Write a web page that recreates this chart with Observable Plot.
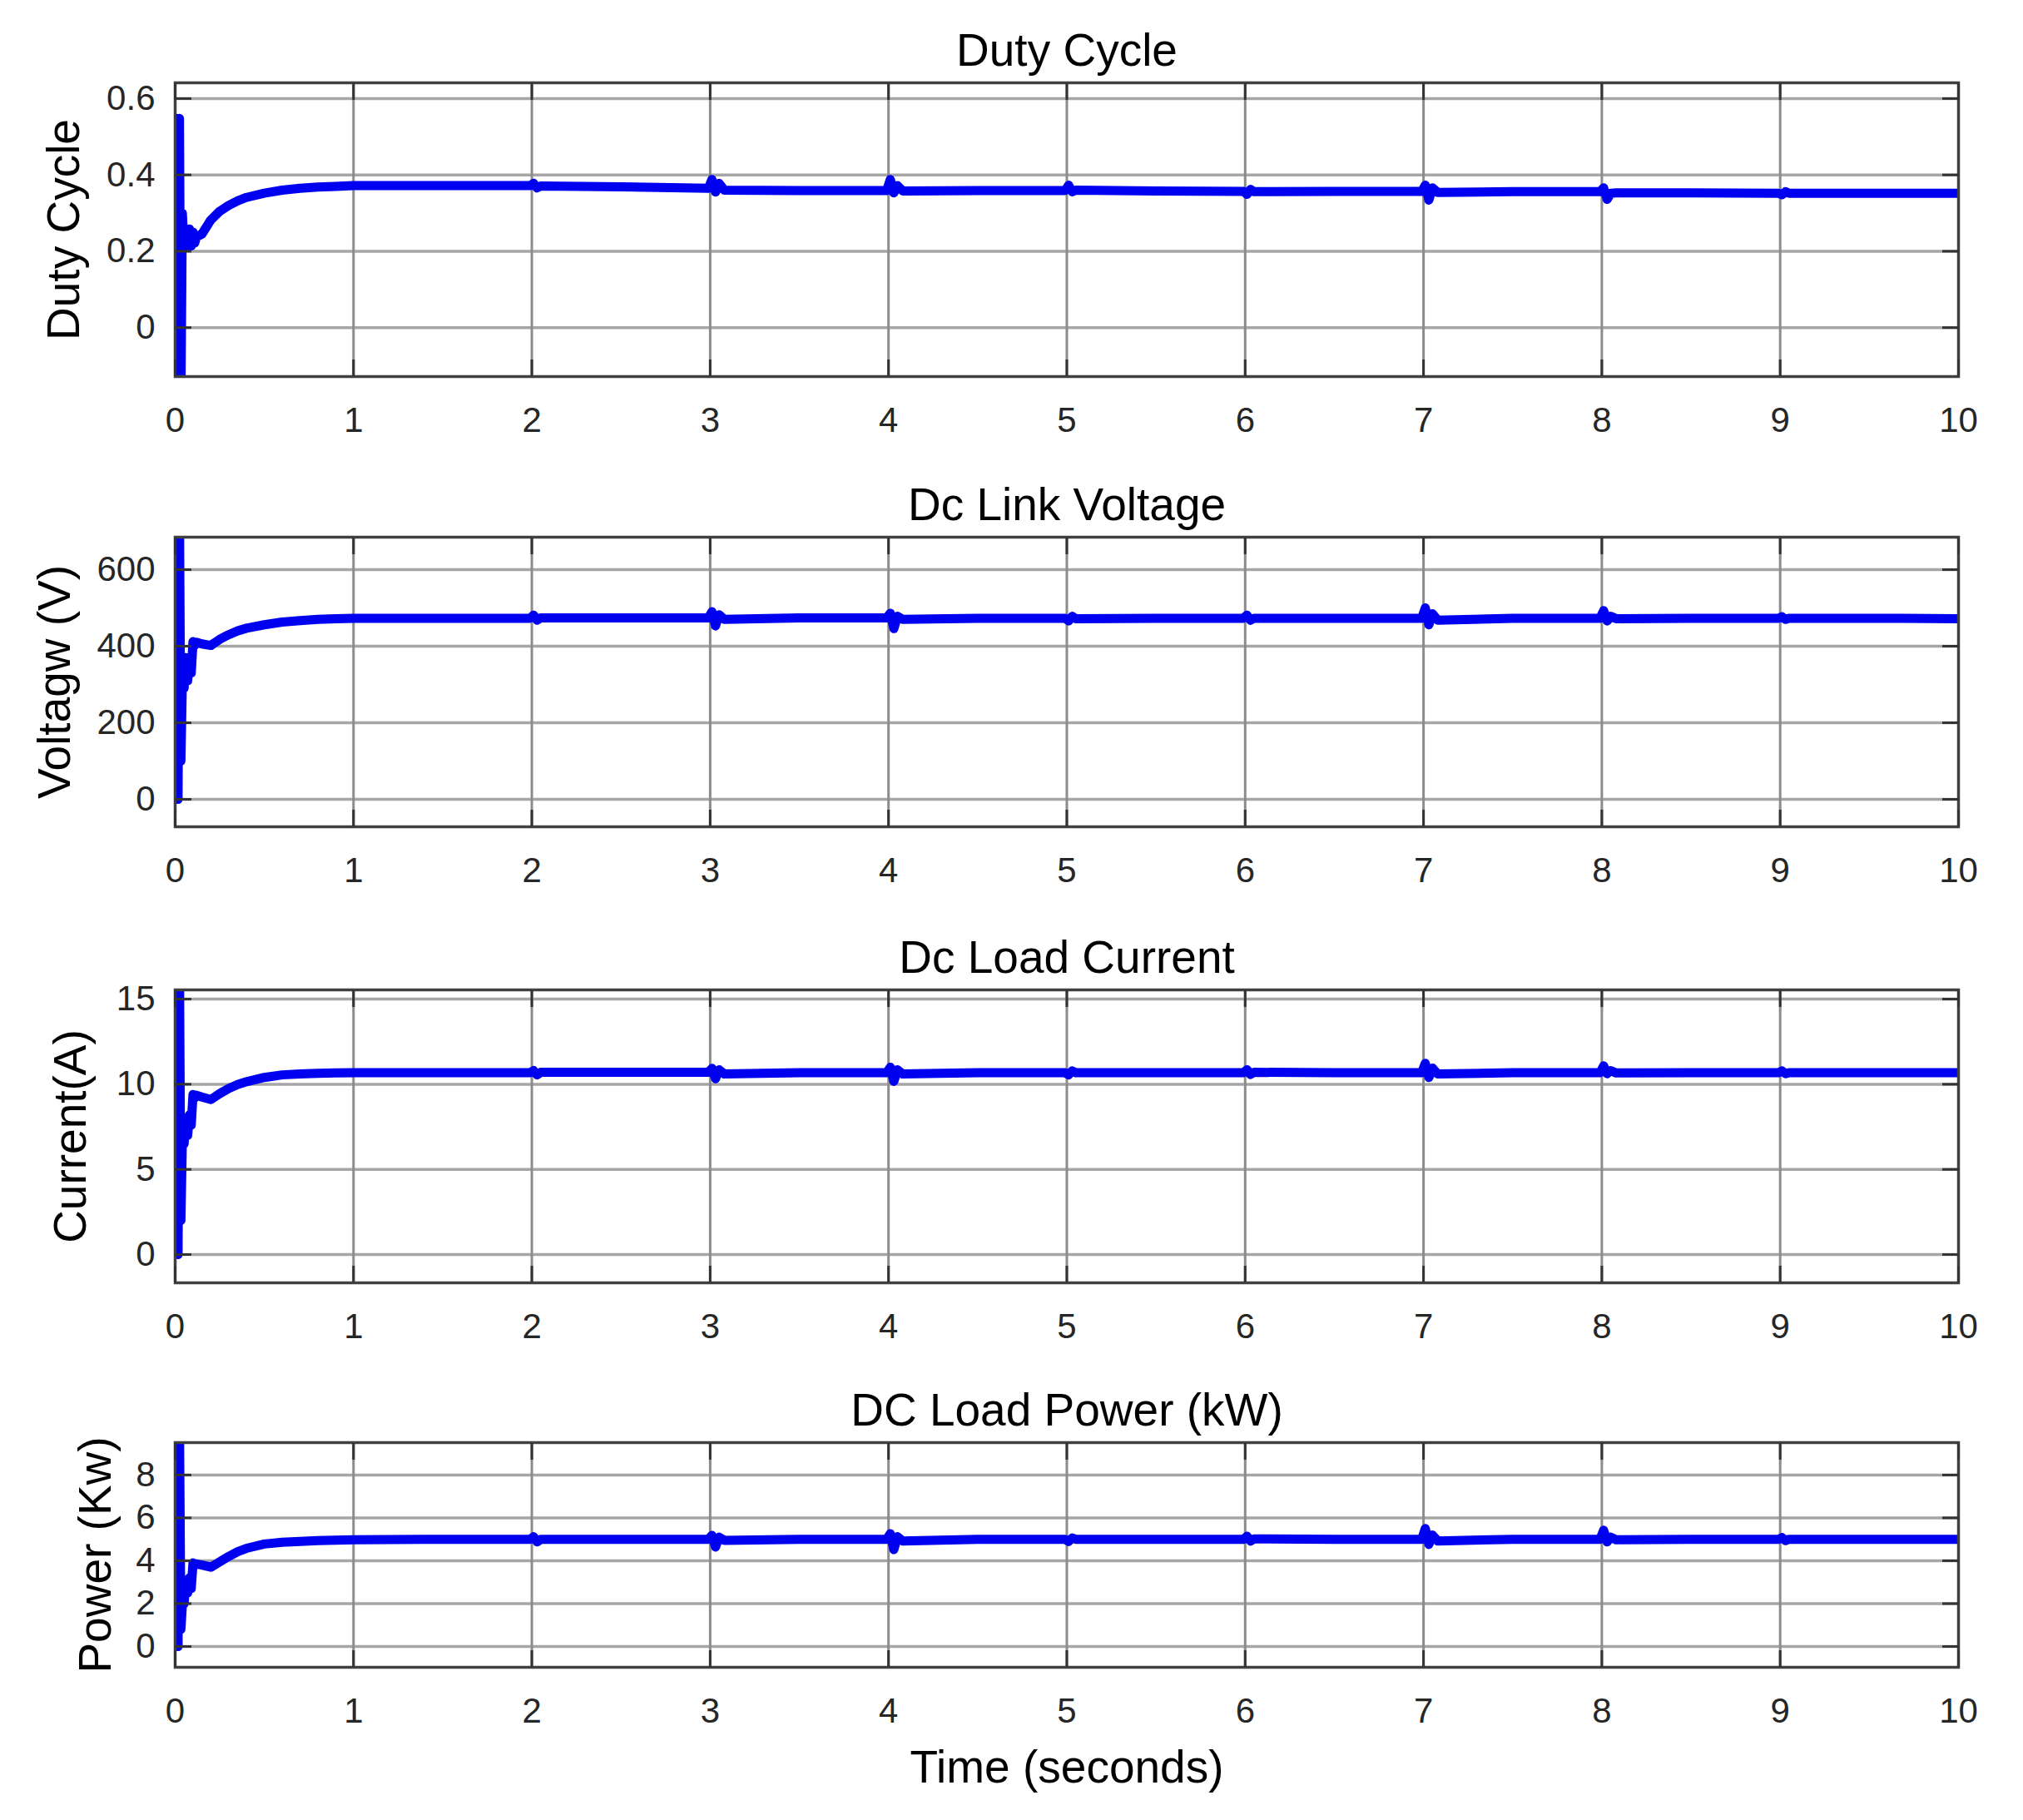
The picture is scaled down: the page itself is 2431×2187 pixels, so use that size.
<!DOCTYPE html>
<html>
<head>
<meta charset="utf-8">
<script src="https://cdn.jsdelivr.net/npm/d3@7"></script>
<script src="https://cdn.jsdelivr.net/npm/@observablehq/plot@0.6"></script>
<style>
html, body { margin: 0; padding: 0; background: #ffffff; }
#chart svg { display: block; }
</style>
</head>
<body>
<div id="chart"></div>
<script>
// ---------------- data ----------------
const timeSec = [
  0, 0.008, 0.016, 0.024, 0.032, 0.04, 0.05, 0.06, 0.07, 0.08,
  0.09, 0.1, 0.11, 0.12, 0.15, 0.2, 0.25, 0.3, 0.35, 0.4,
  0.5, 0.6, 0.7, 0.8, 0.9, 1.0, 1.5,
  1.99, 2.01, 2.03, 2.05, 2.5,
  2.99, 3.01, 3.03, 3.05, 3.08, 3.5,
  3.99, 4.01, 4.03, 4.05, 4.08, 4.5,
  4.99, 5.01, 5.03, 5.05, 5.5,
  5.99, 6.01, 6.03, 6.05, 6.5,
  6.99, 7.01, 7.03, 7.05, 7.08, 7.5,
  7.99, 8.01, 8.03, 8.05, 8.08, 8.5,
  8.99, 9.01, 9.03, 9.05, 9.5, 10
];

const dutyCycle = [
  -0.2, 0.548, -0.2, 0.548, -0.2, 0.3, 0.212, 0.258, 0.21, 0.258,
  0.214, 0.25, 0.222, 0.238, 0.245, 0.282, 0.305, 0.32, 0.332, 0.341,
  0.352, 0.36, 0.365, 0.368, 0.37, 0.372, 0.372,
  0.372, 0.378, 0.366, 0.371, 0.369,
  0.365, 0.388, 0.355, 0.378, 0.36, 0.359,
  0.359, 0.388, 0.353, 0.372, 0.358, 0.359,
  0.359, 0.373, 0.356, 0.36, 0.358,
  0.357, 0.349, 0.362, 0.356, 0.357,
  0.357, 0.373, 0.334, 0.366, 0.354, 0.356,
  0.356, 0.366, 0.336, 0.352, 0.353, 0.353,
  0.352, 0.348, 0.356, 0.352, 0.352, 0.352
];

const dcLinkVoltage = [
  0, 750, 0, 750, 100, 300, 290, 370, 310, 365,
  330, 412, 402, 410, 406, 402, 418, 430, 440, 447,
  456, 463, 467, 470, 472, 473, 473,
  473, 481, 468, 474, 474,
  474, 490, 453, 482, 470, 474,
  474, 486, 446, 478, 470, 473,
  473, 466, 478, 472, 473,
  473, 481, 468, 473, 473,
  473, 500, 456, 485, 468, 473,
  473, 493, 466, 478, 472, 473,
  473, 477, 470, 473, 473, 472
];

const dcLoadCurrent = [
  0, 17, 0, 17, 2, 6.5, 6.5, 8.0, 7.0, 8.2,
  7.6, 9.4, 9.2, 9.35, 9.25, 9.1, 9.45, 9.75, 9.98, 10.15,
  10.4, 10.55, 10.6, 10.64, 10.67, 10.68, 10.68,
  10.68, 10.8, 10.55, 10.7, 10.7,
  10.7, 10.93, 10.32, 10.85, 10.6, 10.68,
  10.68, 11.0, 10.17, 10.85, 10.6, 10.68,
  10.68, 10.55, 10.78, 10.68, 10.68,
  10.68, 10.85, 10.58, 10.7, 10.68,
  10.68, 11.23, 10.4, 10.95, 10.6, 10.68,
  10.68, 11.08, 10.62, 10.8, 10.66, 10.68,
  10.68, 10.78, 10.62, 10.68, 10.68, 10.68
];

const dcLoadPower = [
  0, 10.5, 0, 10.5, 0.8, 1.9, 2.0, 3.1, 2.5, 3.2,
  2.7, 3.9, 3.78, 3.85, 3.8, 3.7, 3.95, 4.2, 4.42, 4.58,
  4.78, 4.86, 4.9, 4.94, 4.96, 4.98, 5.0,
  5.0, 5.12, 4.88, 5.0, 5.0,
  5.0, 5.18, 4.64, 5.1, 4.95, 5.0,
  5.0, 5.26, 4.52, 5.12, 4.92, 5.0,
  5.0, 4.9, 5.06, 5.0, 5.0,
  5.0, 5.14, 4.92, 5.02, 5.0,
  5.0, 5.5, 4.76, 5.2, 4.92, 5.0,
  5.0, 5.42, 4.88, 5.1, 4.98, 5.0,
  5.0, 5.08, 4.94, 5.0, 5.0, 5.0
];

const xTickValues = [0, 1, 2, 3, 4, 5, 6, 7, 8, 9, 10];
const dutyTicks = [0, 0.2, 0.4, 0.6];
const voltageTicks = [0, 200, 400, 600];
const currentTicks = [0, 5, 10, 15];
const powerTicks = [0, 2, 4, 6, 8];

const panelTitles = ["Duty Cycle", "Dc Link Voltage", "Dc Load Current", "DC Load Power (kW)"];
const yLabels = ["Duty Cycle", "Voltagw (V)", "Current(A)", "Power (Kw)"];
const xLabel = "Time (seconds)";

// ---------------- layout ----------------
const W = 2431, ML = 210, MR = 78;
const FONT = "'Liberation Sans', Arial, Helvetica, sans-serif";

const panels = [
  {title: panelTitles[0], ylabel: yLabels[0], values: dutyCycle, ticks: dutyTicks, domain: [-0.1283, 0.6413],
   height: 545, mt: 99, mb: 93, labelDx: -133, titleDy: -38},
  {title: panelTitles[1], ylabel: yLabels[1], values: dcLinkVoltage, ticks: voltageTicks, domain: [-71.7, 684.8],
   height: 545, mt: 100, mb: 97, labelDx: -144, titleDy: -38},
  {title: panelTitles[2], ylabel: yLabels[2], values: dcLoadCurrent, ticks: currentTicks, domain: [-1.66, 15.54],
   height: 546, mt: 99, mb: 95, labelDx: -125, titleDy: -38},
  {title: panelTitles[3], ylabel: yLabels[3], values: dcLoadPower, ticks: powerTicks, domain: [-0.97, 9.51],
   height: 551, mt: 97, mb: 184, labelDx: -95, titleDy: -38}
];

const fmt = d => String(d);
const tickStyle = {stroke: "#333333", strokeWidth: 3, tickFormat: () => "", label: null};

function makePanel(p, isLast) {
  const data = timeSec.map((t, i) => ({t, v: p.values[i]}));
  const marks = [
    Plot.gridY(p.ticks, {stroke: "#a6a6a6", strokeOpacity: 1, strokeWidth: 3.5}),
    Plot.gridX(xTickValues, {stroke: "#8c8c8c", strokeOpacity: 1, strokeWidth: 3}),
    Plot.line(data, {x: "t", y: "v", stroke: "#0000f0", strokeWidth: 11, strokeLinejoin: "round", strokeLinecap: "butt", clip: true}),
    Plot.frame({stroke: "#404040", strokeWidth: 3.5}),
    Plot.axisY(p.ticks, {anchor: "left", tickSize: -20, ...tickStyle}),
    Plot.axisY(p.ticks, {anchor: "right", tickSize: -20, ...tickStyle}),
    Plot.axisX(xTickValues, {anchor: "top", tickSize: -20, ...tickStyle}),
    Plot.axisX(xTickValues, {anchor: "bottom", tickSize: -20, ...tickStyle}),
    Plot.axisY(p.ticks, {anchor: "left", tickSize: 0, tickPadding: 24, fontSize: 42, fill: "#262626", label: null, tickFormat: fmt}),
    Plot.axisX(xTickValues, {anchor: "bottom", tickSize: 0, tickPadding: 37, fontSize: 42, fill: "#262626", label: null, tickFormat: fmt}),
    Plot.text([p.title], {text: d => d, frameAnchor: "top", dy: p.titleDy, fontSize: 55, fill: "#000000", lineAnchor: "middle"}),
    Plot.text([p.ylabel], {text: d => d, frameAnchor: "left", rotate: -90, dx: p.labelDx, fontSize: 55, fill: "#000000", lineAnchor: "middle", textAnchor: "middle"})
  ];
  if (isLast) {
    marks.push(Plot.text([xLabel], {text: d => d, frameAnchor: "bottom", dy: 121, fontSize: 55, fill: "#000000", lineAnchor: "middle"}));
  }
  return Plot.plot({
    width: W,
    height: p.height,
    marginLeft: ML,
    marginRight: MR,
    marginTop: p.mt,
    marginBottom: p.mb,
    x: {domain: [0, 10]},
    y: {domain: p.domain},
    style: {fontFamily: FONT, background: "#ffffff", color: "#262626", overflow: "visible"},
    marks
  });
}

const root = document.getElementById("chart");
panels.forEach((p, i) => root.appendChild(makePanel(p, i === panels.length - 1)));
</script>
</body>
</html>
